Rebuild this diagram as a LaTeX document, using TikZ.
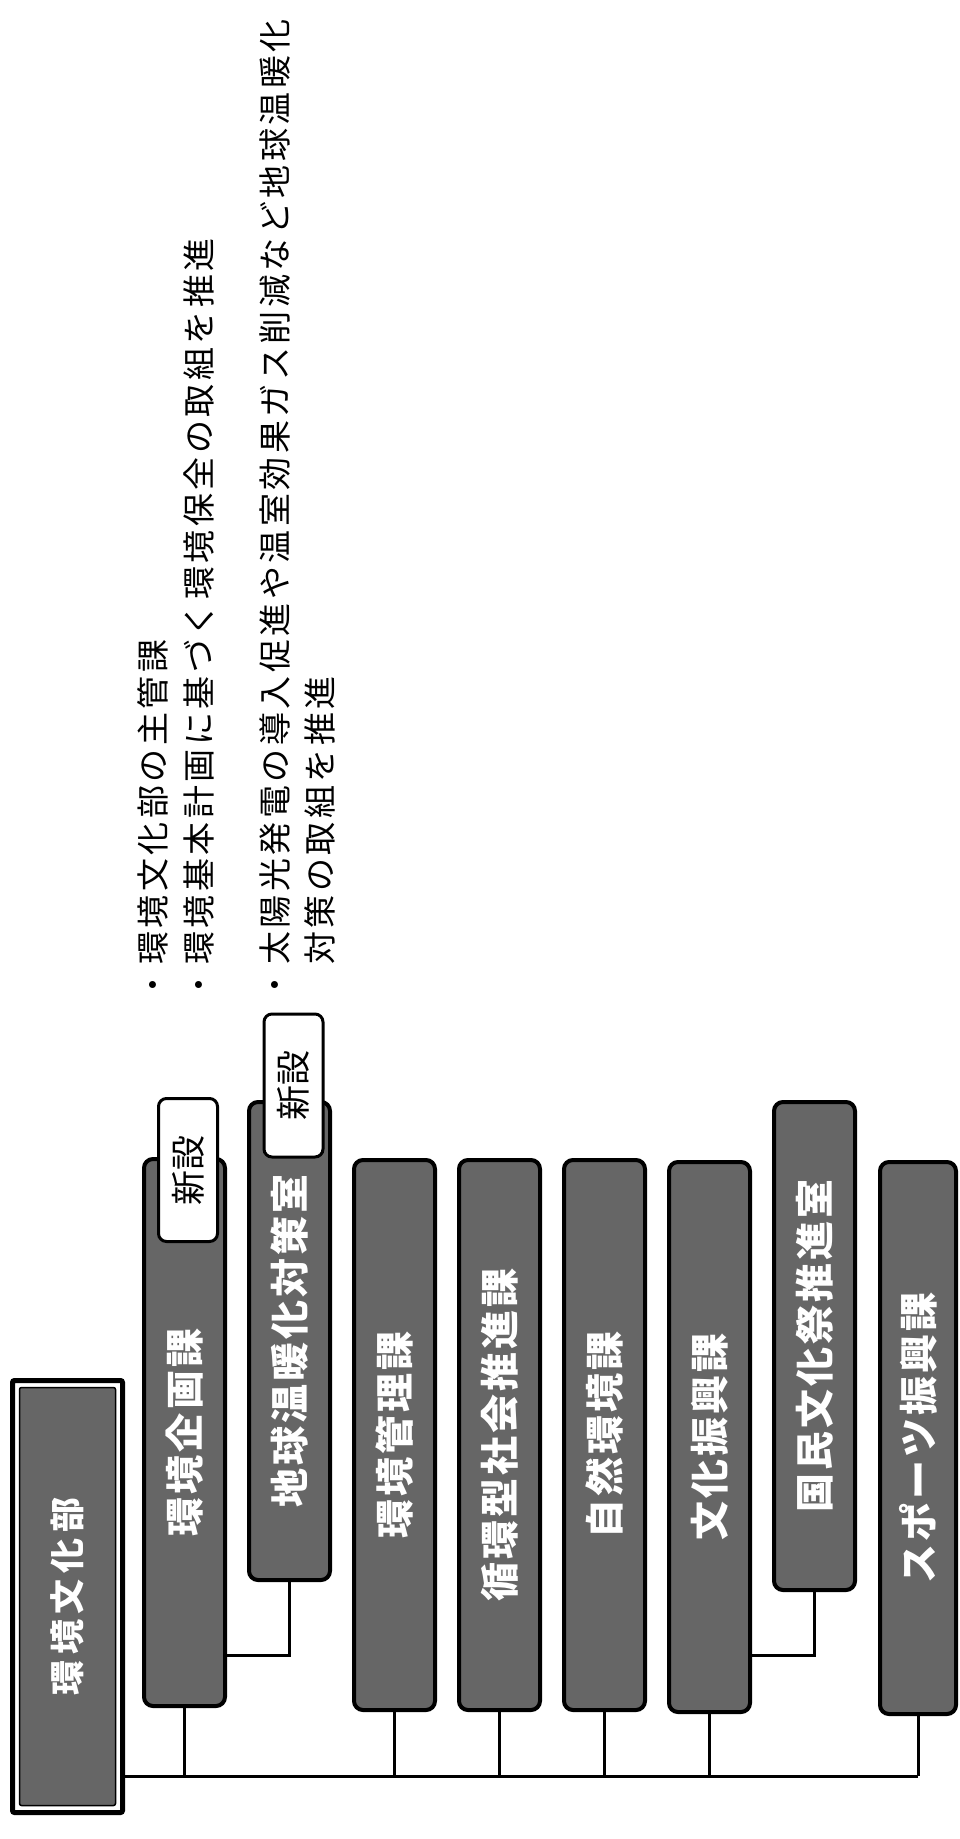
\documentclass[tikz,border=0pt]{standalone}
\usepackage{fontspec}
\newfontfamily\jpnote[LetterSpace=10.6]{Noto Sans CJK JP}
\newfontfamily\jpunit[LetterSpace=8]{Noto Sans CJK JP}
\newfontfamily\jphead[LetterSpace=16]{Noto Sans CJK JP}
\newfontfamily\jptag{Noto Sans CJK JP}
\definecolor{boxgray}{gray}{0.40}
\begin{document}
\begin{tikzpicture}[x=1pt,y=-1pt,
  unit/.style={draw=black, line width=4pt, rounded corners=9pt, fill=boxgray, inner sep=0pt,
    minimum width=81pt, text=white, font=\jpunit\bfseries\fontsize{39}{39}\selectfont},
  newtag/.style={draw=black, line width=3pt, rounded corners=8pt, fill=white, inner sep=0pt,
    minimum width=59pt, minimum height=143pt, font=\jptag\fontsize{35}{35}\selectfont},
  headbox/.style={draw=black, line width=5pt, rounded corners=2pt, fill=white, inner sep=0pt,
    minimum width=110pt, minimum height=432pt, text=white,
    font=\jphead\bfseries\fontsize{35}{35}\selectfont,
    path picture={\draw[line width=1.5pt, fill=boxgray]
      ([xshift=7pt,yshift=-7pt]path picture bounding box.north west) rectangle
      ([xshift=-7pt,yshift=7pt]path picture bounding box.south east);}},
  note/.style={rotate=90, anchor=west, inner sep=0pt, text height=29pt, text depth=4pt,
    font=\jpnote\fontsize{33}{33}\selectfont},
  wire/.style={line width=3pt}]
\useasboundingbox (0,0) rectangle (959,1839);

% head
\node[headbox] (bu) at (67.5,1596.5) {\rotatebox{90}{環境文化部}};

% units
\node[unit, minimum height=547pt] (kikaku) at (184.5,1432.5) {\rotatebox{90}{環境企画課}};
\node[unit, minimum height=478pt] (chikyu) at (289.5,1341) {\rotatebox{90}{地球温暖化対策室}};
\node[unit, minimum height=550pt] (kanri) at (394.5,1435) {\rotatebox{90}{環境管理課}};
\node[unit, minimum height=550pt] (junkan) at (499.5,1435) {\rotatebox{90}{循環型社会推進課}};
\node[unit, minimum height=550pt] (shizen) at (604.5,1435) {\rotatebox{90}{自然環境課}};
\node[unit, minimum height=550pt] (bunka) at (709.5,1437) {\rotatebox{90}{文化振興課}};
\node[unit, minimum height=488pt] (kokumin) at (814.5,1346) {\rotatebox{90}{国民文化祭推進室}};
\node[unit, minimum height=552pt, minimum width=76pt] (sports) at (918,1438) {\rotatebox{90}{スポーツ振興課}};

% new tags
\node[newtag] (tag1) at (188,1170) {\rotatebox{90}{新設}};
\node[newtag] (tag2) at (293.5,1085.5) {\rotatebox{90}{新設}};

% notes
\node[note] (n1) at (153,1001.5) {・環境文化部の主管課};
\node[note] (n2) at (199,1001.5) {・環境基本計画に基づく環境保全の取組を推進};
\node[note] (n3) at (275,1001.5) {・太陽光発電の導入促進や温室効果ガス削減など地球温暖化};
\node[note] (n4) at (320,965) {対策の取組を推進};

% connectors
\coordinate (bus) at (0,1776);
\coordinate (sub) at (0,1655);
\draw[wire] (bu.east |- bus) -- (sports.south |- bus);
\foreach \b in {kikaku,kanri,junkan,shizen,bunka,sports}
  \draw[wire] (\b.south) -- (\b.south |- bus);
\draw[wire] (chikyu.south) |- (kikaku.east |- sub);
\draw[wire] (kokumin.south) |- (bunka.east |- sub);
\end{tikzpicture}
\end{document}
